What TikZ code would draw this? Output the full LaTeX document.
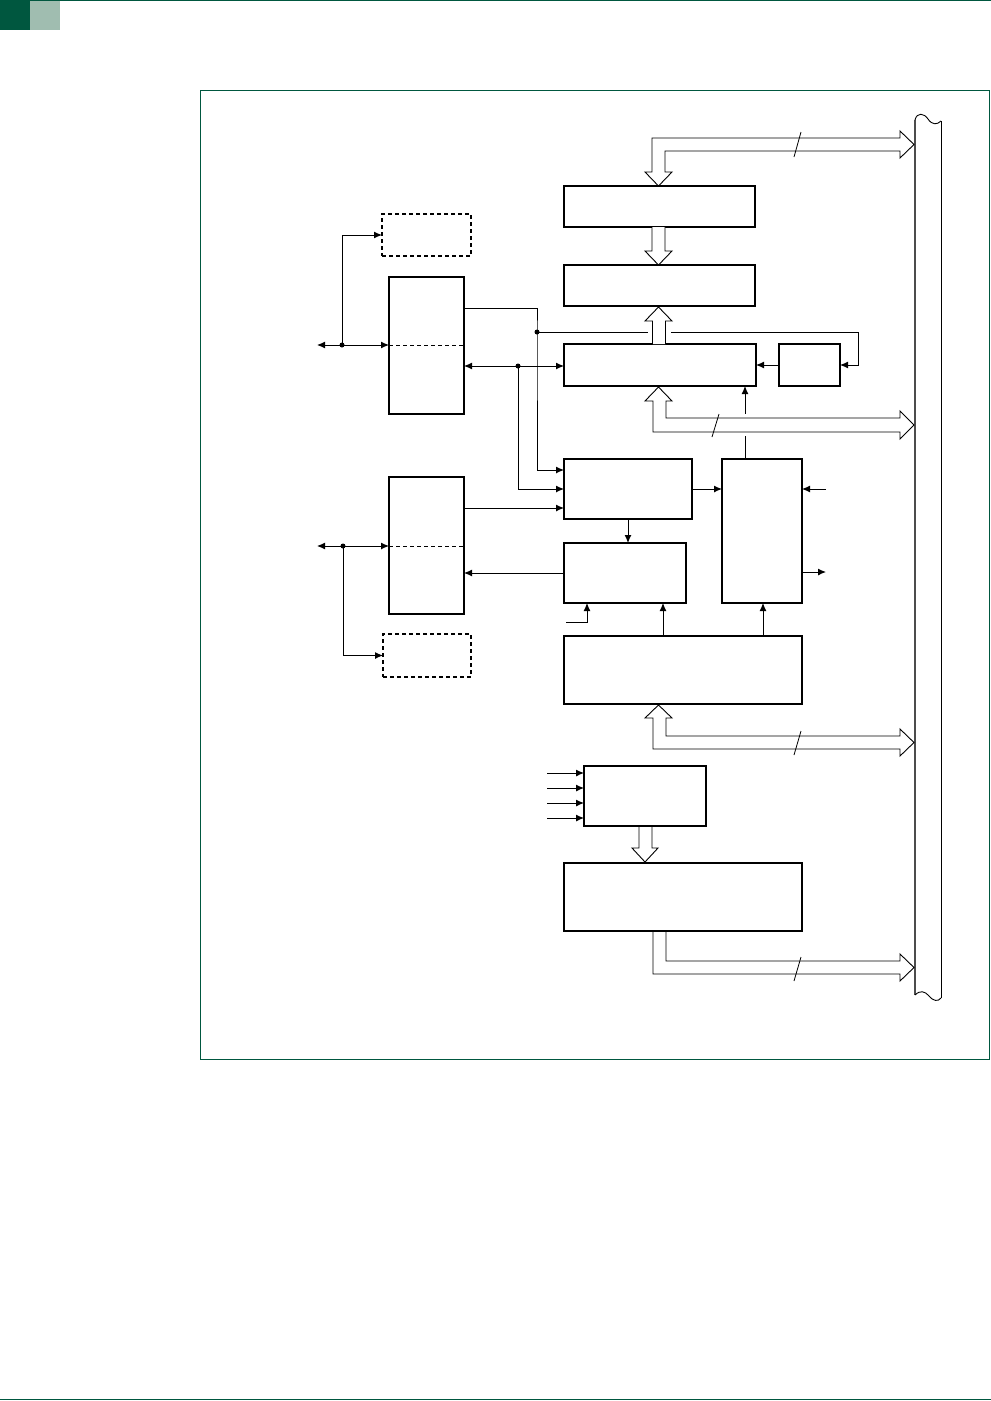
\documentclass[tikz,border=0pt]{standalone}
\usetikzlibrary{arrows.meta,calc}
\definecolor{dkgreen}{HTML}{00573F}
\definecolor{ltgreen}{HTML}{A0BDB0}
\tikzset{
 blk/.style={draw, line width=2pt, rectangle, inner sep=0pt, outer sep=0pt, anchor=north west},
 dblk/.style={blk, dash pattern=on 4pt off 3pt},
 con/.style={line width=1pt, -{Latex[length=8pt,width=7pt]}},
 ln/.style={line width=1pt},
 dot/.style={circle, fill, inner sep=0pt, minimum size=5pt},
 bus/.style={draw, line width=0.9pt, fill=white, line join=miter},
 slash/.style={line width=0.8pt},
}
\begin{document}
\begin{tikzpicture}[x=1pt,y=-1pt]
\useasboundingbox (0,0) rectangle (991,1401);
% header / footer / frame
\fill[dkgreen] (0,0) rectangle (30,30);
\fill[ltgreen] (30,0) rectangle (60,30);
\fill[dkgreen] (0,0) rectangle (991,1.3);
\fill[dkgreen] (0,1398.6) rectangle (991,1400);
\draw[dkgreen, line width=1pt] (200.5,90.5) rectangle (989.5,1059.5);

% boxes
\node[blk, minimum width=191pt, minimum height=41pt] (A) at (564,186) {};
\node[blk, minimum width=191pt, minimum height=41pt] (B) at (564,265) {};
\node[blk, minimum width=192pt, minimum height=42pt] (C) at (564,344) {};
\node[blk, minimum width=61pt, minimum height=42pt] (D) at (779,344) {};
\node[blk, minimum width=75pt, minimum height=137pt] (E) at (389,277) {};
\node[dblk, minimum width=89pt, minimum height=42pt] (F) at (382,214) {};
\node[blk, minimum width=128pt, minimum height=60pt] (G) at (564,459) {};
\node[blk, line width=1.6pt, minimum width=122pt, minimum height=60pt] (H) at (564,543) {};
\node[blk, minimum width=80pt, minimum height=144pt] (I) at (722,459) {};
\node[blk, minimum width=238pt, minimum height=68pt] (J) at (564,636) {};
\node[blk, minimum width=75pt, minimum height=137pt] (K) at (389,477) {};
\node[dblk, minimum width=88pt, minimum height=43pt] (L) at (383,634) {};
\node[blk, minimum width=122pt, minimum height=60pt] (M) at (584,766) {};
\node[blk, minimum width=238pt, minimum height=68pt] (N) at (564,863) {};

% dashed dividers
\draw[ln, dash pattern=on 4pt off 3pt] (E.west |- 0,345) -- (E.east |- 0,345);
\draw[ln, dash pattern=on 4pt off 3pt] (K.west |- 0,546) -- (K.east |- 0,546);

% left upper port
\coordinate (eL) at (317,345);
\node[dot] (d1) at (342,345) {};
\draw[con] (d1.center) -- (eL);
\draw[con] (d1.center) -- (E.west |- d1);
\draw[con] (d1.center) |- (F.west);

% left lower port
\coordinate (kL) at (317,546);
\node[dot] (d2) at (343,546) {};
\draw[con] (d2.center) -- (kL);
\draw[con] (d2.center) -- (K.west |- d2);
\draw[con] (d2.center) |- (L.west);

% E outputs
\node[dot] (d3) at (537,332) {};
\draw[con] (E.east |- 0,308) -| (d3.center) -- (537,470) -- (G.west |- 0,470);
\draw[con] (d3.center) -- (858,332) |- (D.east);
\draw[con] (D.west) -- (C.east |- D.west);
\node[dot] (d4) at (518,366) {};
\draw[con] (d4.center) -- (E.east |- d4);
\draw[con] (d4.center) -- (C.west |- d4);
\draw[con] (d4.center) |- (G.west);
\draw[con] (K.east |- 0,508) -- (G.west |- 0,508);
\draw[con] (H.west) -- (K.east |- H.west);
\draw[con] (G.east) -- (I.west |- G.east);
\draw[con] (G.south) -- (H.north -| G.south);
\coordinate (iin) at (826,489);
\draw[con] (iin) -- (I.east |- iin);
\coordinate (iout) at (826,572);
\draw[con] (I.east |- iout) -- (iout);
\draw[con] (J.north -| 663,0) -- (H.south -| 663,0);
\draw[con] (J.north -| 763,0) -- (I.south -| 763,0);
\coordinate (hin) at (566,622);
\draw[con] (hin) -| (H.south -| 587,0);
\draw[con] (I.north -| 745,0) -- (C.south -| 745,0);
\foreach \yy in {773,788,803,818} {
  \coordinate (m\yy) at (547,\yy);
  \draw[con] (m\yy) -- (M.west |- m\yy);
}

% bus bar
\draw[gray!60!black, line width=1.2pt] (915,120) -- (915,995);
\draw[line width=1pt] (941,121) -- (941,998);
\draw[line width=0.9pt] (915,120) .. controls (917,112) and (924,113) .. (928,119) .. controls (932,125) and (937,125) .. (941,121);
\draw[line width=0.9pt] (915,995) .. controls (920,990) and (925,991) .. (929,996) .. controls (933,1001) and (938,1002) .. (941,998);

% hollow bus arrows
\draw[bus] (900,138) -- (900,131) -- (914,144.5) -- (900,158) -- (900,151) -- (665,151) -- (665,172) -- (672,172) -- (658.5,186) -- (645,172) -- (652,172) -- (652,138) -- cycle;
\draw[slash] (794,157) -- (801,132);

\draw[bus] (652,227) -- (652,251) -- (645,251) -- (658.5,265) -- (672,251) -- (665,251) -- (665,227);

\fill[white] (648,322) rectangle (671,342);
\draw[bus] (652.5,344) -- (652.5,321) -- (645,321) -- (658.5,307) -- (672,321) -- (665.5,321) -- (665.5,344);

\fill[white] (741,414) rectangle (749,436);
\draw[bus] (658.5,387) -- (672,401) -- (666,401) -- (666,418) -- (900,418) -- (900,411) -- (914,425) -- (900,439) -- (900,432) -- (653,432) -- (653,401) -- (645,401) -- cycle;
\draw[slash] (712,437) -- (719,414);

\draw[bus] (658.5,705) -- (672,718) -- (666,718) -- (666,736) -- (900,736) -- (900,729) -- (914,742.5) -- (900,756) -- (900,749) -- (653,749) -- (653,718) -- (645,718) -- cycle;
\draw[slash] (794,755) -- (801,731);

\draw[bus] (666,932) -- (666,961) -- (900,961) -- (900,954) -- (914,967.5) -- (900,981) -- (900,974) -- (653,974) -- (653,932);
\draw[slash] (794,981) -- (801,957);

\draw[bus] (639,827) -- (639,848) -- (632,848) -- (645,862) -- (658,848) -- (652,848) -- (652,827);
\end{tikzpicture}
\end{document}
